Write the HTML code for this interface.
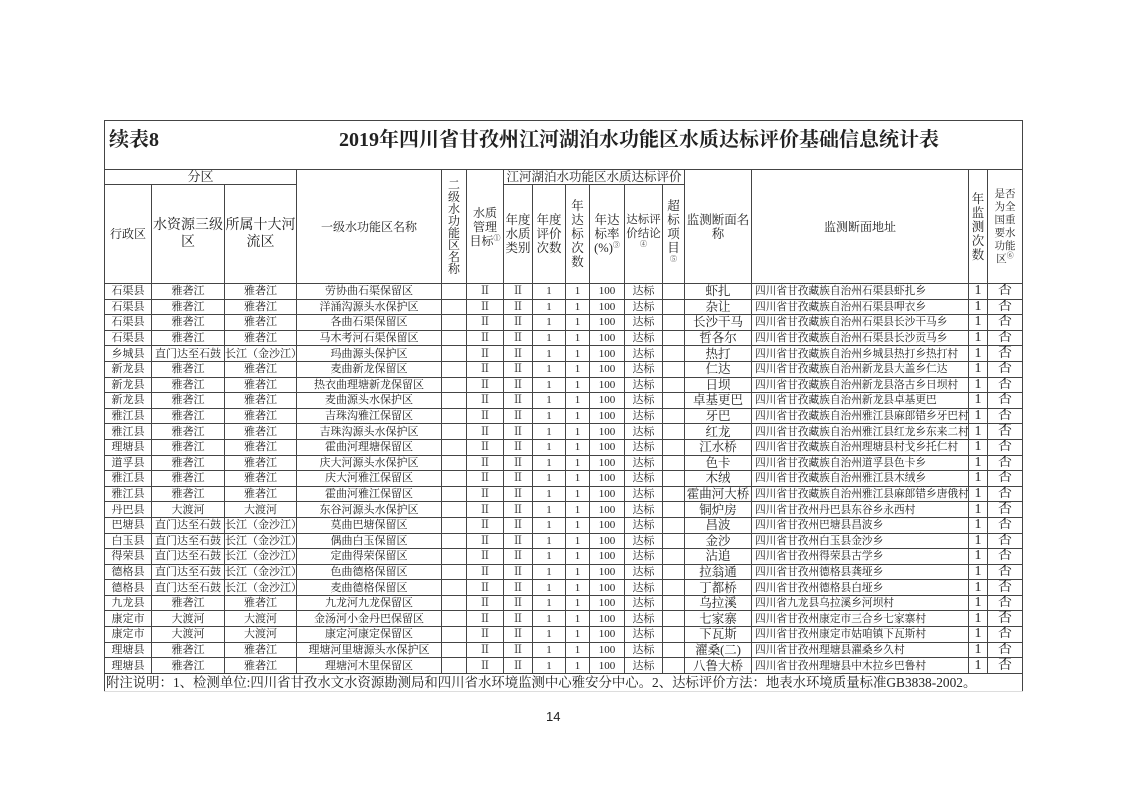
<!DOCTYPE html>
<html><head><meta charset="utf-8"><style>
body{margin:0;width:1122px;height:793px;background:#fff;position:relative;font-family:"Liberation Serif","Noto Serif CJK SC","Noto Sans CJK SC",serif;color:#222}
table{position:absolute;left:104px;top:120px;border-collapse:collapse;table-layout:fixed;width:918px}
td{border:1px solid #444;padding:0;text-align:center;vertical-align:middle;overflow:hidden;white-space:nowrap;font-size:11px;line-height:13px}
tr.d td{height:14.6px;line-height:14px}
tr.d td.s{font-size:12.5px}
tr.d td.a{text-align:left;padding-left:3px;font-size:10.7px}
tr.d td.n{font-size:14px}
.h td{font-size:12.5px;line-height:14px}
.sm{font-size:12px!important;line-height:14px!important}
sup{font-size:7px;line-height:0}
</style></head><body>
<table>
<colgroup><col style="width:47px"><col style="width:73px"><col style="width:72px"><col style="width:145px"><col style="width:25px"><col style="width:37px"><col style="width:29px"><col style="width:33px"><col style="width:24px"><col style="width:35px"><col style="width:38px"><col style="width:22px"><col style="width:67px"><col style="width:217px"><col style="width:19px"><col style="width:35px"></colgroup>
<tr><td colspan="16" style="height:48px;text-align:left;font-weight:bold;font-size:20px;position:relative"><span style="position:absolute;left:4px;top:13px">续表8</span><span style="position:absolute;left:234px;top:13px">2019年四川省甘孜州江河湖泊水功能区水质达标评价基础信息统计表</span></td></tr>
<tr class="h"><td colspan="3" style="height:14px;font-size:13px">分区</td><td rowspan="2" style="font-size:12px">一级水功能区名称</td><td rowspan="2" style="line-height:12px;font-size:12px">二<br>级<br>水<br>功<br>能<br>区<br>名<br>称</td><td rowspan="2" class="sm">水质<br>管理<br>目标<sup>①</sup></td><td colspan="6" style="font-size:12.5px">江河湖泊水功能区水质达标评价</td><td rowspan="2">监测断面名<br>称</td><td rowspan="2" style="font-size:12px">监测断面地址</td><td rowspan="2" style="line-height:14px">年<br>监<br>测<br>次<br>数</td><td rowspan="2" style="font-size:10.5px;line-height:13px">是否<br>为全<br>国重<br>要水<br>功能<br>区<sup>⑥</sup></td></tr>
<tr class="h"><td style="height:98px;font-size:12px">行政区</td><td style="font-size:14px;line-height:17px">水资源三级<br>区</td><td style="font-size:14px;line-height:17px">所属十大河<br>流区</td><td>年度<br>水质<br>类别</td><td>年度<br>评价<br>次数</td><td>年<br>达<br>标<br>次<br>数</td><td>年达<br>标率<br>(%)<sup>③</sup></td><td style="font-size:11.5px">达标评<br>价结论<br><sup>④</sup></td><td>超<br>标<br>项<br>目<br><sup>⑤</sup></td></tr>
<tr class="d"><td>石渠县</td><td>雅砻江</td><td>雅砻江</td><td>劳协曲石渠保留区</td><td></td><td>Ⅱ</td><td>Ⅱ</td><td>1</td><td>1</td><td>100</td><td>达标</td><td></td><td class="s">虾扎</td><td class="a">四川省甘孜藏族自治州石渠县虾扎乡</td><td class="n">1</td><td class="n">否</td></tr>
<tr class="d"><td>石渠县</td><td>雅砻江</td><td>雅砻江</td><td>洋涌沟源头水保护区</td><td></td><td>Ⅱ</td><td>Ⅱ</td><td>1</td><td>1</td><td>100</td><td>达标</td><td></td><td class="s">杂让</td><td class="a">四川省甘孜藏族自治州石渠县呷衣乡</td><td class="n">1</td><td class="n">否</td></tr>
<tr class="d"><td>石渠县</td><td>雅砻江</td><td>雅砻江</td><td>各曲石渠保留区</td><td></td><td>Ⅱ</td><td>Ⅱ</td><td>1</td><td>1</td><td>100</td><td>达标</td><td></td><td class="s">长沙干马</td><td class="a">四川省甘孜藏族自治州石渠县长沙干马乡</td><td class="n">1</td><td class="n">否</td></tr>
<tr class="d"><td>石渠县</td><td>雅砻江</td><td>雅砻江</td><td>马木考河石渠保留区</td><td></td><td>Ⅱ</td><td>Ⅱ</td><td>1</td><td>1</td><td>100</td><td>达标</td><td></td><td class="s">哲各尔</td><td class="a">四川省甘孜藏族自治州石渠县长沙贡马乡</td><td class="n">1</td><td class="n">否</td></tr>
<tr class="d"><td>乡城县</td><td>直门达至石鼓</td><td>长江（金沙江）</td><td>玛曲源头保护区</td><td></td><td>Ⅱ</td><td>Ⅱ</td><td>1</td><td>1</td><td>100</td><td>达标</td><td></td><td class="s">热打</td><td class="a">四川省甘孜藏族自治州乡城县热打乡热打村</td><td class="n">1</td><td class="n">否</td></tr>
<tr class="d"><td>新龙县</td><td>雅砻江</td><td>雅砻江</td><td>麦曲新龙保留区</td><td></td><td>Ⅱ</td><td>Ⅱ</td><td>1</td><td>1</td><td>100</td><td>达标</td><td></td><td class="s">仁达</td><td class="a">四川省甘孜藏族自治州新龙县大盖乡仁达</td><td class="n">1</td><td class="n">否</td></tr>
<tr class="d"><td>新龙县</td><td>雅砻江</td><td>雅砻江</td><td>热衣曲理塘新龙保留区</td><td></td><td>Ⅱ</td><td>Ⅱ</td><td>1</td><td>1</td><td>100</td><td>达标</td><td></td><td class="s">日坝</td><td class="a">四川省甘孜藏族自治州新龙县洛古乡日坝村</td><td class="n">1</td><td class="n">否</td></tr>
<tr class="d"><td>新龙县</td><td>雅砻江</td><td>雅砻江</td><td>麦曲源头水保护区</td><td></td><td>Ⅱ</td><td>Ⅱ</td><td>1</td><td>1</td><td>100</td><td>达标</td><td></td><td class="s">卓基更巴</td><td class="a">四川省甘孜藏族自治州新龙县卓基更巴</td><td class="n">1</td><td class="n">否</td></tr>
<tr class="d"><td>雅江县</td><td>雅砻江</td><td>雅砻江</td><td>吉珠沟雅江保留区</td><td></td><td>Ⅱ</td><td>Ⅱ</td><td>1</td><td>1</td><td>100</td><td>达标</td><td></td><td class="s">牙巴</td><td class="a">四川省甘孜藏族自治州雅江县麻郎错乡牙巴村</td><td class="n">1</td><td class="n">否</td></tr>
<tr class="d"><td>雅江县</td><td>雅砻江</td><td>雅砻江</td><td>吉珠沟源头水保护区</td><td></td><td>Ⅱ</td><td>Ⅱ</td><td>1</td><td>1</td><td>100</td><td>达标</td><td></td><td class="s">红龙</td><td class="a">四川省甘孜藏族自治州雅江县红龙乡东来二村</td><td class="n">1</td><td class="n">否</td></tr>
<tr class="d"><td>理塘县</td><td>雅砻江</td><td>雅砻江</td><td>霍曲河理塘保留区</td><td></td><td>Ⅱ</td><td>Ⅱ</td><td>1</td><td>1</td><td>100</td><td>达标</td><td></td><td class="s">江水桥</td><td class="a">四川省甘孜藏族自治州理塘县村戈乡托仁村</td><td class="n">1</td><td class="n">否</td></tr>
<tr class="d"><td>道孚县</td><td>雅砻江</td><td>雅砻江</td><td>庆大河源头水保护区</td><td></td><td>Ⅱ</td><td>Ⅱ</td><td>1</td><td>1</td><td>100</td><td>达标</td><td></td><td class="s">色卡</td><td class="a">四川省甘孜藏族自治州道孚县色卡乡</td><td class="n">1</td><td class="n">否</td></tr>
<tr class="d"><td>雅江县</td><td>雅砻江</td><td>雅砻江</td><td>庆大河雅江保留区</td><td></td><td>Ⅱ</td><td>Ⅱ</td><td>1</td><td>1</td><td>100</td><td>达标</td><td></td><td class="s">木绒</td><td class="a">四川省甘孜藏族自治州雅江县木绒乡</td><td class="n">1</td><td class="n">否</td></tr>
<tr class="d"><td>雅江县</td><td>雅砻江</td><td>雅砻江</td><td>霍曲河雅江保留区</td><td></td><td>Ⅱ</td><td>Ⅱ</td><td>1</td><td>1</td><td>100</td><td>达标</td><td></td><td class="s">霍曲河大桥</td><td class="a">四川省甘孜藏族自治州雅江县麻郎错乡唐俄村</td><td class="n">1</td><td class="n">否</td></tr>
<tr class="d"><td>丹巴县</td><td>大渡河</td><td>大渡河</td><td>东谷河源头水保护区</td><td></td><td>Ⅱ</td><td>Ⅱ</td><td>1</td><td>1</td><td>100</td><td>达标</td><td></td><td class="s">铜炉房</td><td class="a">四川省甘孜州丹巴县东谷乡永西村</td><td class="n">1</td><td class="n">否</td></tr>
<tr class="d"><td>巴塘县</td><td>直门达至石鼓</td><td>长江（金沙江）</td><td>莫曲巴塘保留区</td><td></td><td>Ⅱ</td><td>Ⅱ</td><td>1</td><td>1</td><td>100</td><td>达标</td><td></td><td class="s">昌波</td><td class="a">四川省甘孜州巴塘县昌波乡</td><td class="n">1</td><td class="n">否</td></tr>
<tr class="d"><td>白玉县</td><td>直门达至石鼓</td><td>长江（金沙江）</td><td>偶曲白玉保留区</td><td></td><td>Ⅱ</td><td>Ⅱ</td><td>1</td><td>1</td><td>100</td><td>达标</td><td></td><td class="s">金沙</td><td class="a">四川省甘孜州白玉县金沙乡</td><td class="n">1</td><td class="n">否</td></tr>
<tr class="d"><td>得荣县</td><td>直门达至石鼓</td><td>长江（金沙江）</td><td>定曲得荣保留区</td><td></td><td>Ⅱ</td><td>Ⅱ</td><td>1</td><td>1</td><td>100</td><td>达标</td><td></td><td class="s">沾追</td><td class="a">四川省甘孜州得荣县古学乡</td><td class="n">1</td><td class="n">否</td></tr>
<tr class="d"><td>德格县</td><td>直门达至石鼓</td><td>长江（金沙江）</td><td>色曲德格保留区</td><td></td><td>Ⅱ</td><td>Ⅱ</td><td>1</td><td>1</td><td>100</td><td>达标</td><td></td><td class="s">拉翁通</td><td class="a">四川省甘孜州德格县龚垭乡</td><td class="n">1</td><td class="n">否</td></tr>
<tr class="d"><td>德格县</td><td>直门达至石鼓</td><td>长江（金沙江）</td><td>麦曲德格保留区</td><td></td><td>Ⅱ</td><td>Ⅱ</td><td>1</td><td>1</td><td>100</td><td>达标</td><td></td><td class="s">丁都桥</td><td class="a">四川省甘孜州德格县白垭乡</td><td class="n">1</td><td class="n">否</td></tr>
<tr class="d"><td>九龙县</td><td>雅砻江</td><td>雅砻江</td><td>九龙河九龙保留区</td><td></td><td>Ⅱ</td><td>Ⅱ</td><td>1</td><td>1</td><td>100</td><td>达标</td><td></td><td class="s">乌拉溪</td><td class="a">四川省九龙县乌拉溪乡河坝村</td><td class="n">1</td><td class="n">否</td></tr>
<tr class="d"><td>康定市</td><td>大渡河</td><td>大渡河</td><td>金汤河小金丹巴保留区</td><td></td><td>Ⅱ</td><td>Ⅱ</td><td>1</td><td>1</td><td>100</td><td>达标</td><td></td><td class="s">七家寨</td><td class="a">四川省甘孜州康定市三合乡七家寨村</td><td class="n">1</td><td class="n">否</td></tr>
<tr class="d"><td>康定市</td><td>大渡河</td><td>大渡河</td><td>康定河康定保留区</td><td></td><td>Ⅱ</td><td>Ⅱ</td><td>1</td><td>1</td><td>100</td><td>达标</td><td></td><td class="s">下瓦斯</td><td class="a">四川省甘孜州康定市姑咱镇下瓦斯村</td><td class="n">1</td><td class="n">否</td></tr>
<tr class="d"><td>理塘县</td><td>雅砻江</td><td>雅砻江</td><td>理塘河里塘源头水保护区</td><td></td><td>Ⅱ</td><td>Ⅱ</td><td>1</td><td>1</td><td>100</td><td>达标</td><td></td><td class="s">濯桑(二)</td><td class="a">四川省甘孜州理塘县濯桑乡久村</td><td class="n">1</td><td class="n">否</td></tr>
<tr class="d"><td>理塘县</td><td>雅砻江</td><td>雅砻江</td><td>理塘河木里保留区</td><td></td><td>Ⅱ</td><td>Ⅱ</td><td>1</td><td>1</td><td>100</td><td>达标</td><td></td><td class="s">八鲁大桥</td><td class="a">四川省甘孜州理塘县中木拉乡巴鲁村</td><td class="n">1</td><td class="n">否</td></tr>
<tr><td colspan="16" style="height:17px;text-align:left;font-size:13.4px;line-height:17px;border-bottom:1px solid #ddd;padding-left:1px">附注说明：1、检测单位:四川省甘孜水文水资源勘测局和四川省水环境监测中心雅安分中心。2、达标评价方法：地表水环境质量标准GB3838-2002。</td></tr>
</table>
<div style="position:absolute;left:546px;top:709px;font-family:'Liberation Sans',sans-serif;font-size:13px">14</div>
</body></html>
